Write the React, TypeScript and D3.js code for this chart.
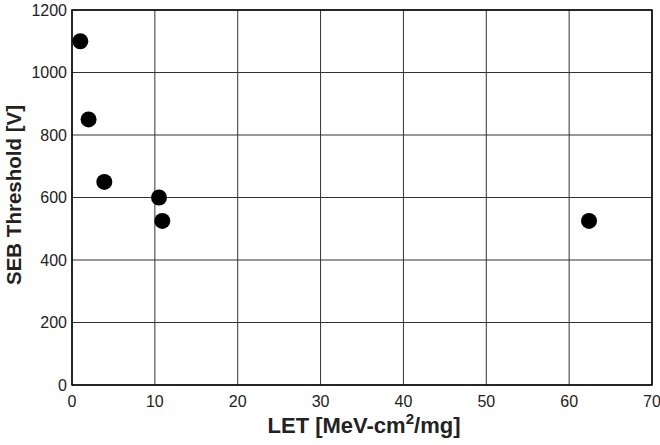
import * as d3 from "d3";
import { useEffect, useRef } from "react";

const letValues = [1.0, 2.0, 3.9, 10.5, 10.9, 62.4];
const sebThreshold = [1100, 850, 650, 600, 525, 525];
const xTicks = [0, 10, 20, 30, 40, 50, 60, 70];
const yTicks = [0, 200, 400, 600, 800, 1000, 1200];

const App = () => {
  const ref = useRef<SVGSVGElement | null>(null);

  useEffect(() => {
    const svg = d3.select(ref.current);
    svg.selectAll("*").remove();

    const width = 660,
      height = 445,
      margin = { top: 10, right: 8, bottom: 60, left: 72 };
    const chartWidth = width - margin.left - margin.right;
    const chartHeight = height - margin.top - margin.bottom;
    const font = "'Liberation Sans', Arial, sans-serif";

    const xScale = d3.scaleLinear().domain([0, 70]).range([0, chartWidth]);
    const yScale = d3.scaleLinear().domain([0, 1200]).range([chartHeight, 0]);

    const g = svg
      .append("g")
      .attr("transform", `translate(${margin.left}, ${margin.top})`);

    // grid
    g.selectAll(".vgrid")
      .data(xTicks)
      .enter()
      .append("line")
      .attr("x1", (d) => xScale(d))
      .attr("x2", (d) => xScale(d))
      .attr("y1", 0)
      .attr("y2", chartHeight)
      .attr("stroke", "#333")
      .attr("stroke-width", 1);
    g.selectAll(".hgrid")
      .data(yTicks)
      .enter()
      .append("line")
      .attr("x1", 0)
      .attr("x2", chartWidth)
      .attr("y1", (d) => yScale(d))
      .attr("y2", (d) => yScale(d))
      .attr("stroke", "#333")
      .attr("stroke-width", 1);

    g.append("rect")
      .attr("width", chartWidth)
      .attr("height", chartHeight)
      .attr("fill", "none")
      .attr("stroke", "#000")
      .attr("stroke-width", 1.5);

    // tick labels
    g.selectAll(".xt")
      .data(xTicks)
      .enter()
      .append("text")
      .attr("x", (d) => xScale(d))
      .attr("y", chartHeight + 22)
      .attr("text-anchor", "middle")
      .attr("font-family", font)
      .attr("font-size", 16)
      .attr("fill", "#222")
      .text((d) => d);
    g.selectAll(".yt")
      .data(yTicks)
      .enter()
      .append("text")
      .attr("x", -5)
      .attr("y", (d) => yScale(d))
      .attr("dy", "0.35em")
      .attr("text-anchor", "end")
      .attr("font-family", font)
      .attr("font-size", 16)
      .attr("fill", "#222")
      .text((d) => d);

    // points
    g.selectAll(".pt")
      .data(letValues)
      .enter()
      .append("circle")
      .attr("cx", (d) => xScale(d))
      .attr("cy", (_, i) => yScale(sebThreshold[i]))
      .attr("r", 8)
      .attr("fill", "#000");

    // axis titles
    const xt = svg
      .append("text")
      .attr("x", 364)
      .attr("y", 433)
      .attr("text-anchor", "middle")
      .attr("font-family", font)
      .attr("font-size", 22)
      .attr("font-weight", "bold")
      .attr("fill", "#222");
    xt.append("tspan").text("LET [MeV-cm");
    xt.append("tspan").attr("dy", -9).attr("font-size", 15).text("2");
    xt.append("tspan").attr("dy", 9).text("/mg]");

    svg
      .append("text")
      .attr("transform", `translate(21, 195) rotate(-90)`)
      .attr("text-anchor", "middle")
      .attr("font-family", font)
      .attr("font-size", 20.5)
      .attr("font-weight", "bold")
      .attr("fill", "#222")
      .text("SEB Threshold [V]");
  }, []);

  return (
    <svg
      ref={ref}
      width={660}
      height={445}
      style={{ position: "absolute", left: 0, top: 0 }}
    ></svg>
  );
};

export default App;
